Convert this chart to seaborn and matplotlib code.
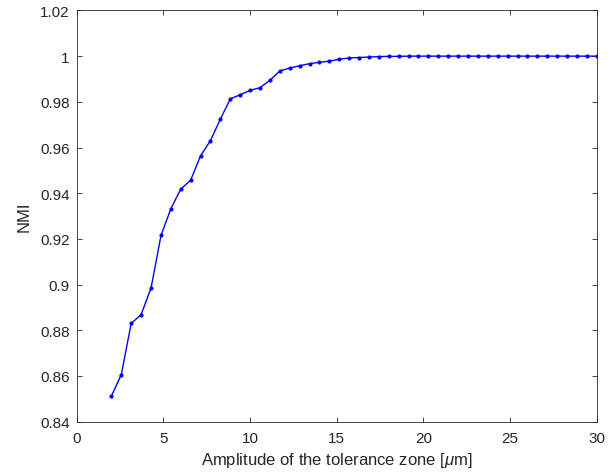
import matplotlib
matplotlib.use("Agg")
import matplotlib.pyplot as plt
import seaborn as sns
import pandas as pd
from matplotlib.ticker import FuncFormatter

# amplitude grid (50 points from 2 to 30 um)
amplitude = [2.0, 2.57, 3.14, 3.71, 4.29, 4.86, 5.43, 6.0, 6.57, 7.14,
             7.71, 8.29, 8.86, 9.43, 10.0, 10.57, 11.14, 11.71, 12.29, 12.86,
             13.43, 14.0, 14.57, 15.14, 15.71, 16.29, 16.86, 17.43, 18.0, 18.57,
             19.14, 19.71, 20.29, 20.86, 21.43, 22.0, 22.57, 23.14, 23.71, 24.29,
             24.86, 25.43, 26.0, 26.57, 27.14, 27.71, 28.29, 28.86, 29.43, 30.0]

nmi = [0.8512, 0.8606, 0.8830, 0.8868, 0.8986, 0.9215, 0.9332, 0.9418, 0.9457, 0.9563,
       0.9630, 0.9725, 0.9813, 0.9831, 0.9850, 0.9862, 0.9894, 0.9935, 0.9948, 0.9958,
       0.9967, 0.9973, 0.9978, 0.9986, 0.9992, 0.9994, 0.9996, 0.9998, 0.9999, 0.9999,
       1.0, 1.0, 1.0, 1.0, 1.0, 1.0, 1.0, 1.0, 1.0, 1.0,
       1.0, 1.0, 1.0, 1.0, 1.0, 1.0, 1.0, 1.0, 1.0, 1.0]

df = pd.DataFrame({"amp": amplitude, "nmi": nmi})

sns.set_style("ticks")
plt.rcParams['font.family'] = ['Liberation Sans', 'DejaVu Sans']
plt.rcParams['mathtext.fontset'] = 'custom'
plt.rcParams['mathtext.it'] = 'Liberation Sans:italic'
plt.rcParams['mathtext.rm'] = 'Liberation Sans'

fig = plt.figure(figsize=(6.14, 4.77), dpi=100)
ax = fig.add_axes([0.125, 0.114, 0.847, 0.862])

sns.lineplot(data=df, x="amp", y="nmi", ax=ax, color=(0, 0, 1), linewidth=1.0,
             marker='o', markersize=3, markeredgewidth=0)

ax.set_xlim(0, 30)
ax.set_ylim(0.84, 1.02)
ax.set_xticks([0, 5, 10, 15, 20, 25, 30])
ax.set_yticks([0.84, 0.86, 0.88, 0.9, 0.92, 0.94, 0.96, 0.98, 1.0, 1.02])
ax.yaxis.set_major_formatter(FuncFormatter(lambda v, p: "%g" % round(v, 2)))

ax.set_xlabel(r"Amplitude of the tolerance zone [$\mu$m]", fontsize=12,
              color='#262626', labelpad=3)
ax.set_ylabel("NMI", fontsize=12, color='#262626', labelpad=6)

ax.tick_params(direction='in', top=True, right=True, length=3.6, width=0.6,
               labelsize=11, colors='#262626')
ax.tick_params(axis='x', pad=7)
ax.tick_params(axis='y', pad=5)
for s in ax.spines.values():
    s.set_visible(True)
    s.set_linewidth(0.6)
    s.set_color('#262626')

fig.savefig("out.png", dpi=100)
